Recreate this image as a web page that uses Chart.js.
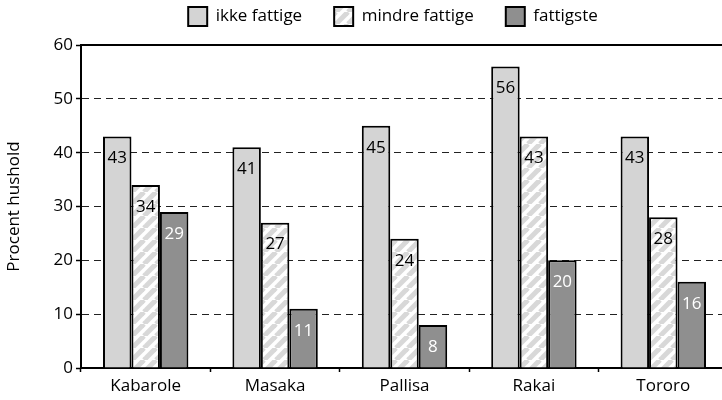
<!DOCTYPE html>
<html>
<head>
<meta charset="utf-8">
<script src="https://cdn.jsdelivr.net/npm/chart.js@4"></script>
<style>
  body { margin: 0; overflow: hidden; background: #fff; }
  #wrap { width: 735px; height: 400px; }
</style>
</head>
<body>
<div id="wrap"><canvas id="chart" width="735" height="400"></canvas></div>
<script>
const categories = ['Kabarole', 'Masaka', 'Pallisa', 'Rakai', 'Tororo'];
const ikkeFattige = [43, 41, 45, 56, 43];
const mindreFattige = [34, 27, 24, 43, 28];
const fattigste = [29, 11, 8, 20, 16];
const seriesNames = ['ikke fattige', 'mindre fattige', 'fattigste'];
const yTicks = [0, 10, 20, 30, 40, 50, 60];

// skraveret mønster til "mindre fattige"
function stripes() {
    const s = 12;
    const c = document.createElement('canvas');
    c.width = s; c.height = s;
    const g = c.getContext('2d');
    g.fillStyle = '#ffffff';
    g.fillRect(0, 0, s, s);
    g.strokeStyle = '#d8d8d8';
    g.lineWidth = 5;
    for (let k = -s; k <= s; k += s) {
        g.beginPath();
        g.moveTo(k, s);
        g.lineTo(k + s, 0);
        g.stroke();
    }
    return g.createPattern(c, 'repeat');
}

const FONT = "'Open Sans', sans-serif";
const labelColors = ['#000', '#000', '#fff'];

const valueLabels = {
    id: 'valueLabels',
    afterDatasetsDraw(chart) {
        const ctx = chart.ctx;
        ctx.save();
        ctx.font = '17px ' + FONT;
        ctx.textAlign = 'center';
        ctx.textBaseline = 'middle';
        chart.data.datasets.forEach((ds, i) => {
            chart.getDatasetMeta(i).data.forEach((bar, j) => {
                ctx.fillStyle = labelColors[i];
                ctx.fillText(ds.data[j], bar.x, bar.y + 22);
            });
        });
        ctx.restore();
    }
};

// flyt forklaringen lidt op og til venstre
const legendShift = {
    id: 'legendShift',
    afterLayout(chart) {
        const l = chart.legend;
        const w = l.right - l.left;
        l.left = 393 - w / 2;
        l.right = 393 + w / 2;
        l.top -= 9;
        l.bottom -= 9;
    }
};

const ctx = document.getElementById('chart').getContext('2d');
new Chart(ctx, {
    type: 'bar',
    data: {
        labels: categories,
        datasets: [
            { label: seriesNames[0], data: ikkeFattige, backgroundColor: '#d4d4d4' },
            { label: seriesNames[1], data: mindreFattige, backgroundColor: stripes() },
            { label: seriesNames[2], data: fattigste, backgroundColor: '#8f8f8f' }
        ].map(d => Object.assign(d, {
            borderColor: '#000',
            borderWidth: 2,
            categoryPercentage: 0.66,
            barPercentage: 1
        }))
    },
    options: {
        responsive: false,
        animation: false,
        layout: { padding: { top: -16, right: 7, left: 0, bottom: 0 } },
        plugins: {
            tooltip: { enabled: false },
            legend: {
                position: 'top',
                fullSize: false,
                labels: {
                    color: '#000',
                    font: { family: FONT, size: 17 },
                    boxWidth: 19,
                    boxHeight: 19,
                    padding: 32
                }
            }
        },
        scales: {
            x: {
                grid: {
                    offset: true,
                    drawOnChartArea: false,
                    tickLength: 4,
                    tickColor: '#000',
                    tickWidth: 1.5
                },
                border: { color: '#000', width: 2 },
                ticks: { color: '#000', font: { family: FONT, size: 17 }, padding: 4 },
                afterFit(s) { s.height = 32; }
            },
            top: {
                position: 'top',
                grid: { display: false },
                border: { color: '#000', width: 2 },
                ticks: { display: false },
                afterFit(s) { s.height = 0; }
            },
            y: {
                min: 0,
                max: 60,
                afterBuildTicks(s) { s.ticks = yTicks.map(v => ({ value: v })); },
                grid: {
                    color: '#222',
                    tickLength: 5,
                    tickColor: '#000',
                    tickBorderDash: [],
                    tickWidth: 1.5
                },
                border: { color: '#000', width: 2, dash: [7, 5] },
                ticks: { color: '#000', font: { family: FONT, size: 17 }, padding: 3 },
                title: {
                    display: true,
                    text: 'Procent hushold',
                    color: '#000',
                    font: { family: FONT, size: 17 },
                    padding: { top: 4, bottom: 0 }
                },
                afterFit(s) { s.width = 81; }
            }
        }
    },
    plugins: [valueLabels, legendShift]
});
</script>
</body>
</html>
